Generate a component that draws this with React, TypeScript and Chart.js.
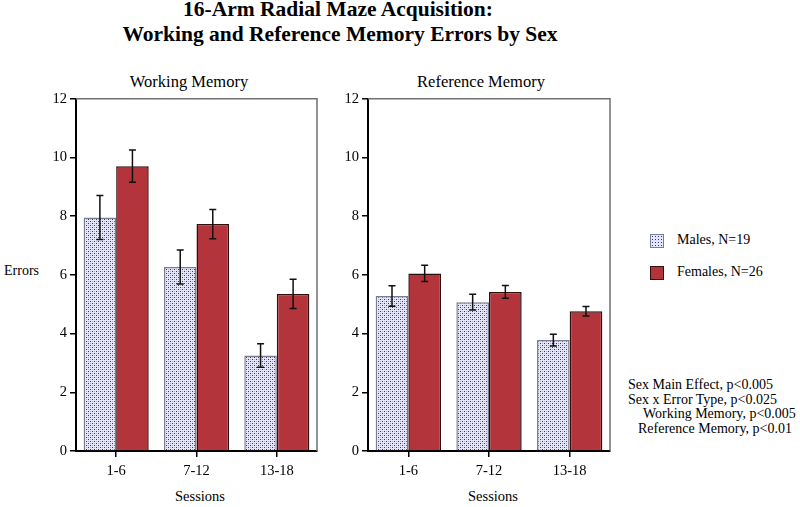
import React, { useEffect, useRef } from 'react';
import { Chart, registerables } from 'chart.js';

Chart.register(...registerables);

// ---- data ----
const sessions = ['1-6', '7-12', '13-18'];
const workingMales = [7.95, 6.27, 3.25];
const workingMalesSE = [0.75, 0.58, 0.4];
const workingFemales = [9.7, 7.73, 5.35];
const workingFemalesSE = [0.55, 0.5, 0.5];
const referenceMales = [5.28, 5.07, 3.78];
const referenceMalesSE = [0.35, 0.27, 0.2];
const referenceFemales = [6.05, 5.42, 4.76];
const referenceFemalesSE = [0.28, 0.22, 0.16];
const yMin = 0;
const yMax = 12;
const yStep = 2;
const seriesLabels = ['Males, N=19', 'Females, N=26'];
const titleLines = ['16-Arm Radial Maze Acquisition:', 'Working and Reference Memory Errors by Sex'];
const panelTitles = ['Working Memory', 'Reference Memory'];
const statsLines = [
  'Sex Main Effect, p<0.005',
  'Sex x Error Type, p<0.025',
  'Working Memory, p<0.005',
  'Reference Memory, p<0.01',
];

const FONT = '"Liberation Serif", "DejaVu Serif", serif';
const FEMALE_FILL = '#b3343b';
const FEMALE_BORDER = '#2e0e0e';
const MALE_BORDER = '#7c7c90';
const MALE_BG = '#e6e6fa';
const MALE_DOT = '#2a2ad0';
const MALE_DOT_LIGHT = '#a8a8ee';

function makeDotPattern(): CanvasPattern | string {
  const c = document.createElement('canvas');
  c.width = 4;
  c.height = 4;
  const g = c.getContext('2d');
  if (!g) return '#dcdcf4';
  g.fillStyle = MALE_BG;
  g.fillRect(0, 0, 4, 4);
  g.fillStyle = MALE_DOT_LIGHT;
  g.fillRect(2, 0, 1, 1);
  g.fillRect(0, 2, 1, 1);
  g.fillStyle = MALE_DOT;
  g.fillRect(0, 0, 1, 1);
  g.fillRect(2, 2, 1, 1);
  const p = g.createPattern(c, 'repeat');
  return p || '#dcdcf4';
}

const errorBarsPlugin = {
  id: 'errorBars',
  afterDatasetsDraw(chart: any) {
    const ctx = chart.ctx;
    const ys = chart.scales.y;
    chart.data.datasets.forEach((ds: any, i: number) => {
      const meta = chart.getDatasetMeta(i);
      meta.data.forEach((bar: any, j: number) => {
        const v = ds.data[j];
        const e = ds.errors[j];
        const x = bar.x;
        const yt = ys.getPixelForValue(v + e);
        const yb = ys.getPixelForValue(v - e);
        ctx.save();
        ctx.strokeStyle = '#111';
        ctx.lineWidth = 1.5;
        ctx.beginPath();
        ctx.moveTo(x, yt);
        ctx.lineTo(x, yb);
        ctx.moveTo(x - 3.5, yt);
        ctx.lineTo(x + 3.5, yt);
        ctx.moveTo(x - 3.5, yb);
        ctx.lineTo(x + 3.5, yb);
        ctx.stroke();
        ctx.restore();
      });
    });
  },
};

const boxPlugin = {
  id: 'boxFrame',
  afterDraw(chart: any) {
    const { ctx, chartArea } = chart;
    ctx.save();
    ctx.strokeStyle = '#707070';
    ctx.lineWidth = 1.5;
    ctx.beginPath();
    ctx.moveTo(chartArea.left, chartArea.top);
    ctx.lineTo(chartArea.right, chartArea.top);
    ctx.lineTo(chartArea.right, chartArea.bottom);
    ctx.stroke();
    ctx.restore();
  },
};

type PanelProps = {
  males: number[];
  malesSE: number[];
  females: number[];
  femalesSE: number[];
  left: number;
  top: number;
  width: number;
  height: number;
  yAxisWidth: number;
  padRight: number;
  padTop: number;
  xAxisHeight: number;
};

function Panel(p: PanelProps) {
  const ref = useRef<HTMLCanvasElement | null>(null);
  useEffect(() => {
    if (!ref.current) return;
    const pattern = makeDotPattern();
    const chart = new Chart(ref.current, {
      type: 'bar',
      data: {
        labels: sessions,
        datasets: [
          {
            label: seriesLabels[0],
            data: p.males,
            errors: p.malesSE,
            backgroundColor: pattern as any,
            borderColor: MALE_BORDER,
            borderWidth: 1.5,
            categoryPercentage: 0.81,
            barPercentage: 1.0,
          } as any,
          {
            label: seriesLabels[1],
            data: p.females,
            errors: p.femalesSE,
            backgroundColor: FEMALE_FILL,
            borderColor: FEMALE_BORDER,
            borderWidth: 1.5,
            categoryPercentage: 0.81,
            barPercentage: 1.0,
          } as any,
        ],
      },
      options: {
        responsive: false,
        animation: false,
        devicePixelRatio: 1,
        layout: { padding: { top: p.padTop, right: p.padRight, left: 0, bottom: 0 } },
        plugins: {
          legend: { display: false },
          title: { display: false },
          tooltip: { enabled: false },
        },
        scales: {
          x: {
            type: 'category',
            offset: true,
            grid: {
              display: true,
              offset: false,
              drawOnChartArea: false,
              drawTicks: true,
              tickLength: 6,
              color: '#000',
              lineWidth: 1.5,
            },
            border: { display: true, color: '#000', width: 2 },
            ticks: { color: '#000', font: { family: FONT, size: 14.5 }, padding: 5 },
            afterFit: (s: any) => {
              s.height = p.xAxisHeight;
            },
          },
          y: {
            min: yMin,
            max: yMax,
            grid: {
              display: true,
              drawOnChartArea: false,
              drawTicks: true,
              tickLength: 6,
              color: '#000',
              lineWidth: 1.5,
            },
            border: { display: true, color: '#000', width: 2 },
            ticks: { stepSize: yStep, color: '#000', font: { family: FONT, size: 14.5 }, padding: 3 },
            afterFit: (s: any) => {
              s.width = p.yAxisWidth;
            },
          },
        },
      },
      plugins: [errorBarsPlugin, boxPlugin],
    } as any);
    return () => chart.destroy();
  }, []);
  return (
    <canvas
      ref={ref}
      width={p.width}
      height={p.height}
      style={{ position: 'absolute', left: p.left, top: p.top, width: p.width, height: p.height }}
    />
  );
}

function Txt(props: { x: number; baseline: number; size: number; text: string; bold?: boolean; center?: boolean }) {
  const { x, baseline, size, text, bold, center } = props;
  return (
    <div
      style={{
        position: 'absolute',
        left: x,
        top: baseline - 0.8375 * size,
        fontSize: size,
        lineHeight: `${size}px`,
        fontWeight: bold ? 'bold' : 'normal',
        whiteSpace: 'nowrap',
        transform: center ? 'translateX(-50%)' : undefined,
      }}
    >
      {text}
    </div>
  );
}

function MaleSwatch({ x, y }: { x: number; y: number }) {
  return (
    <div
      style={{
        position: 'absolute',
        left: x,
        top: y,
        width: 12,
        height: 12,
        border: `1px solid ${MALE_BORDER}`,
        backgroundColor: MALE_BG,
        backgroundImage: `radial-gradient(${MALE_DOT} 0.6px, transparent 0.8px)`,
        backgroundSize: '3px 3px',
      }}
    />
  );
}

export default function App() {
  const top = 87;
  const height = 394;
  return (
    <div
      style={{
        position: 'absolute',
        left: 0,
        top: 0,
        width: 800,
        height: 507,
        background: '#fff',
        color: '#000',
        fontFamily: FONT,
        overflow: 'hidden',
      }}
    >
      <Txt x={338} baseline={17} size={21.5} bold center text={titleLines[0]} />
      <Txt x={340} baseline={42} size={21.5} bold center text={titleLines[1]} />
      <Txt x={189} baseline={88} size={16.5} center text={panelTitles[0]} />
      <Txt x={481} baseline={88} size={16.5} center text={panelTitles[1]} />
      <Txt x={4} baseline={276} size={14} text="Errors" />
      <Txt x={200} baseline={501} size={14.5} center text="Sessions" />
      <Txt x={493} baseline={501} size={14.5} center text="Sessions" />

      <Panel
        males={workingMales}
        malesSE={workingMalesSE}
        females={workingFemales}
        femalesSE={workingFemalesSE}
        left={0}
        top={top}
        width={330}
        height={height}
        yAxisWidth={76}
        padRight={13}
        padTop={10}
        xAxisHeight={30}
      />
      <Panel
        males={referenceMales}
        malesSE={referenceMalesSE}
        females={referenceFemales}
        femalesSE={referenceFemalesSE}
        left={340}
        top={top}
        width={282}
        height={height}
        yAxisWidth={28}
        padRight={12}
        padTop={10}
        xAxisHeight={30}
      />

      <MaleSwatch x={650} y={234} />
      <Txt x={677} baseline={245} size={14} text={seriesLabels[0]} />
      <div
        style={{
          position: 'absolute',
          left: 650,
          top: 266,
          width: 12,
          height: 12,
          border: `1px solid ${FEMALE_BORDER}`,
          background: FEMALE_FILL,
        }}
      />
      <Txt x={677} baseline={277} size={14} text={seriesLabels[1]} />

      <Txt x={628} baseline={390} size={14} text={statsLines[0]} />
      <Txt x={628} baseline={404.5} size={14} text={statsLines[1]} />
      <Txt x={643} baseline={419} size={14} text={statsLines[2]} />
      <Txt x={638} baseline={433.5} size={14} text={statsLines[3]} />
    </div>
  );
}
